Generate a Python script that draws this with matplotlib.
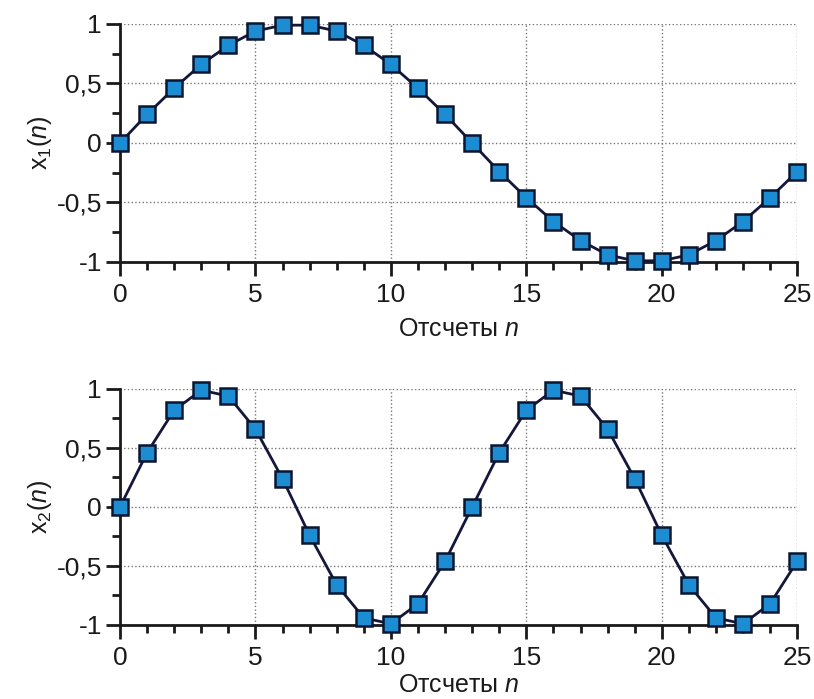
import matplotlib
matplotlib.use("Agg")
import matplotlib.pyplot as plt
from matplotlib.ticker import MultipleLocator

plt.rcParams["font.family"] = ["Liberation Sans", "DejaVu Sans"]
plt.rcParams["mathtext.fontset"] = "custom"
plt.rcParams["mathtext.rm"] = "Liberation Sans"
plt.rcParams["mathtext.it"] = "Liberation Sans:italic"

# Samples n and the two signals
n = list(range(26))
x1 = [0, 0.24, 0.46, 0.66, 0.82, 0.94, 0.99, 0.99, 0.94, 0.82, 0.66, 0.46, 0.24,
      0, -0.24, -0.46, -0.66, -0.82, -0.94, -0.99, -0.99, -0.94, -0.82, -0.66,
      -0.46, -0.24]
x2 = [0, 0.46, 0.82, 0.99, 0.94, 0.66, 0.24, -0.24, -0.66, -0.94, -0.99, -0.82,
      -0.46, 0, 0.46, 0.82, 0.99, 0.94, 0.66, 0.24, -0.24, -0.66, -0.94, -0.99,
      -0.82, -0.46]

y_ticks = [-1, -0.5, 0, 0.5, 1]
y_tick_labels = ["-1", "-0,5", "0", "0,5", "1"]
x_ticks = [0, 5, 10, 15, 20, 25]
x_label = "Отсчеты $\\mathit{n}$"
y_labels = ["x$_\\mathit{1}$($\\mathit{n}$)", "x$_2$($\\mathit{n}$)"]

fig = plt.figure(figsize=(8.14, 6.99), dpi=100)
ax1 = fig.add_axes([0.1474, 0.6252, 0.832, 0.3405])
ax2 = fig.add_axes([0.1474, 0.1059, 0.832, 0.3376])

for ax, y, ylab, xpad in zip([ax1, ax2], [x1, x2], y_labels, [7, 2]):
    ax.plot(n, y, "-", color="#15163c", linewidth=2, zorder=3, clip_on=False)
    ax.plot(n, y, "s", markersize=12, markerfacecolor="#1c8dd3",
            markeredgecolor="#0b1630", markeredgewidth=1.8, zorder=4,
            clip_on=False, linestyle="none")
    ax.set_xlim(0, 25)
    ax.set_ylim(-1, 1)
    ax.set_xticks(x_ticks)
    ax.set_xticklabels([str(t) for t in x_ticks])
    ax.set_yticks(y_ticks)
    ax.set_yticklabels(y_tick_labels)
    ax.xaxis.set_minor_locator(MultipleLocator(1))
    ax.yaxis.set_minor_locator(MultipleLocator(0.25))
    ax.tick_params(which="major", length=10, width=2, labelsize=19,
                   color="#1a1a1a", labelcolor="#1a1a1a", pad=3)
    ax.tick_params(axis="x", which="major", pad=5)
    ax.tick_params(which="minor", length=6, width=2, color="#1a1a1a")
    for side in ["top", "right"]:
        ax.spines[side].set_visible(False)
    for side in ["left", "bottom"]:
        ax.spines[side].set_linewidth(2)
        ax.spines[side].set_color("#1a1a1a")
    ax.grid(True, which="major", linestyle=":", color="#777777", linewidth=1)
    ax.set_axisbelow(True)
    ax.set_xlabel(x_label, fontsize=18, labelpad=xpad, color="#1a1a1a")
    ax.set_ylabel(ylab, fontsize=18, labelpad=2, color="#1a1a1a")

fig.savefig("out.png", dpi=100)
